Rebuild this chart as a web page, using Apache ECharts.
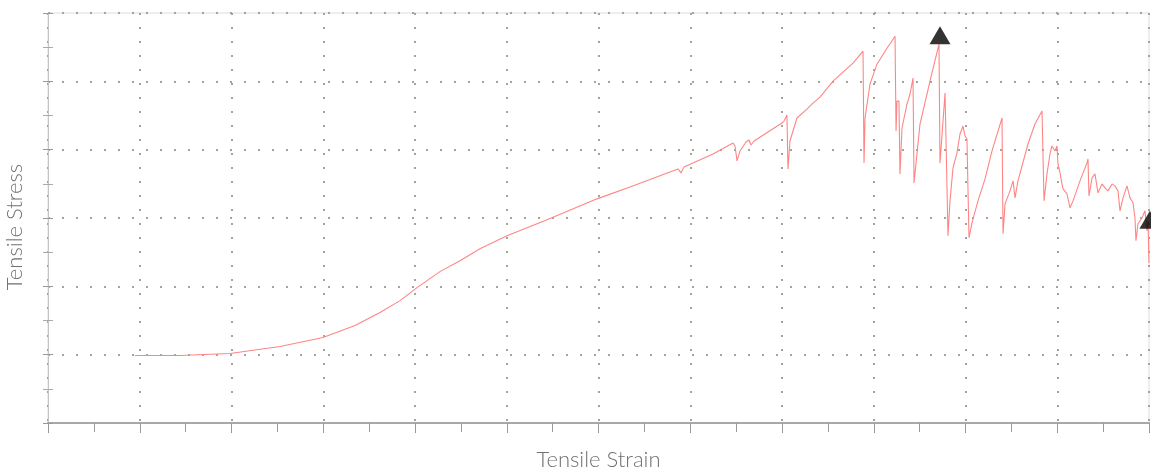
<!DOCTYPE html>
<html>
<head>
<meta charset="utf-8">
<script src="https://cdn.jsdelivr.net/npm/echarts@6/dist/echarts.min.js"></script>
<style>
html,body{margin:0;padding:0;background:#fff;}
#chart{width:1151px;height:468px;}
</style>
</head>
<body>
<div id="chart"></div>
<script>
// Tensile strain (x) values
var strain = [
  0.948, 1.439, 1.984, 2.529, 2.997, 3.346, 3.619, 3.837, 4.022, 4.272,
  4.490, 4.708, 5.003, 5.439, 5.984, 6.343, 6.866, 6.899, 6.932, 7.248,
  7.466, 7.488, 7.510, 7.542, 7.608, 7.640, 7.662, 7.695, 8.000, 8.022,
  8.054, 8.065, 8.087, 8.163, 8.272, 8.338, 8.414, 8.556, 8.774, 8.883,
  8.894, 8.905, 8.959, 9.035, 9.144, 9.232, 9.243, 9.253, 9.275, 9.286,
  9.308, 9.362, 9.395, 9.428, 9.439, 9.504, 9.613, 9.711, 9.722, 9.777,
  9.798, 9.809, 9.831, 9.864, 9.907, 9.940, 9.973, 9.995, 10.016, 10.027,
  10.038, 10.071, 10.136, 10.213, 10.289, 10.398, 10.409, 10.431, 10.485, 10.518,
  10.540, 10.572, 10.681, 10.757, 10.834, 10.856, 10.888, 10.921, 10.942, 10.975,
  10.997, 11.008, 11.030, 11.052, 11.063, 11.106, 11.139, 11.172, 11.248, 11.324,
  11.335, 11.346, 11.379, 11.411, 11.444, 11.488, 11.520, 11.553, 11.597, 11.629,
  11.662, 11.684, 11.717, 11.760, 11.793, 11.826, 11.847, 11.858, 11.880, 11.924,
  11.956, 11.978, 11.989, 12.000
];
// Tensile stress (y) values
var stress = [
  0.988, 0.988, 1.017, 1.120, 1.251, 1.426, 1.616, 1.791, 1.981, 2.215,
  2.375, 2.550, 2.740, 2.974, 3.280, 3.455, 3.718, 3.660, 3.747, 3.937,
  4.098, 4.054, 3.835, 3.981, 4.112, 4.142, 4.068, 4.127, 4.390, 4.419,
  4.507, 3.718, 4.127, 4.463, 4.594, 4.682, 4.769, 5.003, 5.266, 5.441,
  3.806, 4.463, 4.959, 5.251, 5.485, 5.660, 4.273, 4.711, 4.711, 3.645,
  4.317, 4.667, 4.813, 5.047, 3.514, 4.375, 5.003, 5.543, 3.806, 4.828,
  4.857, 2.740, 3.251, 3.733, 3.952, 4.229, 4.346, 4.200, 4.156, 4.127,
  2.711, 2.930, 3.251, 3.572, 3.981, 4.463, 2.769, 3.207, 3.397, 3.543,
  3.295, 3.543, 4.083, 4.375, 4.565, 3.251, 3.645, 3.937, 4.054, 3.981,
  4.054, 3.791, 3.660, 3.499, 3.426, 3.353, 3.149, 3.251, 3.543, 3.806,
  3.864, 3.324, 3.587, 3.645, 3.368, 3.499, 3.441, 3.397, 3.499, 3.470,
  3.397, 3.105, 3.295, 3.470, 3.295, 3.222, 3.003, 2.667, 2.915, 3.003,
  3.105, 2.813, 2.959, 2.340
];
// Black triangle markers
var markerStrain = [9.722, 12.01];
var markerStress = [5.674, 2.974];

var xTitle = 'Tensile Strain';
var yTitle = 'Tensile Stress';

var lineData = strain.map(function (x, i) { return [x, stress[i]]; });
var markerData = markerStrain.map(function (x, i) { return [x, markerStress[i]]; });

var chart = echarts.init(document.getElementById('chart'));
var gridLine = { show: true, lineStyle: { color: '#a4a49a', width: 2, type: [2, 12] } };
var xNameStyle = { fontFamily: 'Lato', fontWeight: 300, fontSize: 22, color: '#707070' };
var yNameStyle = { fontFamily: 'Lato', fontWeight: 300, fontSize: 22, color: '#707070', padding: [0, 18, 0, 0] };

chart.setOption({
  animation: false,
  backgroundColor: '#fff',
  grid: { left: 48, right: 2, top: 13, bottom: 45, show: true, borderColor: '#dcdcdc', borderWidth: 1,
          containLabel: false, outerBoundsMode: 'none' },
  xAxis: {
    type: 'value', min: 0, max: 12, interval: 1,
    name: xTitle, nameLocation: 'middle', nameGap: 26, nameTextStyle: xNameStyle,
    axisLine: { show: true, lineStyle: { color: '#a8a8a8', width: 2 } },
    axisTick: { show: true, length: 10, lineStyle: { color: '#999' } },
    minorTick: { show: true, splitNumber: 2, length: 9, lineStyle: { color: '#999' } },
    axisLabel: { show: false },
    splitLine: gridLine
  },
  yAxis: [{
    type: 'value', min: 0, max: 6, interval: 1,
    name: yTitle, nameLocation: 'middle', nameGap: 22, nameTextStyle: yNameStyle,
    axisLine: { show: true, lineStyle: { color: '#c4c4c4', width: 1 } },
    axisTick: { show: true, length: 5, lineStyle: { color: '#999' } },
    minorTick: { show: true, splitNumber: 2, length: 5, lineStyle: { color: '#aaa' } },
    axisLabel: { show: false },
    splitLine: gridLine
  }, {
    type: 'value', min: 0, max: 6, interval: 1, position: 'left', offset: 0,
    axisLine: { show: false },
    axisTick: { show: true, inside: true, length: 5, lineStyle: { color: '#999' } },
    minorTick: { show: true, splitNumber: 2, length: 5, lineStyle: { color: '#aaa' } },
    axisLabel: { show: false },
    splitLine: { show: false }
  }],
  series: [{
    type: 'line', data: lineData, showSymbol: false, symbol: 'none',
    lineStyle: { color: '#ff8585', width: 1.1 }, z: 2
  }, {
    type: 'scatter', data: markerData, symbol: 'triangle', symbolSize: [21, 18],
    itemStyle: { color: '#000' }, clip: false, z: 3
  }]
});
</script>
</body>
</html>
